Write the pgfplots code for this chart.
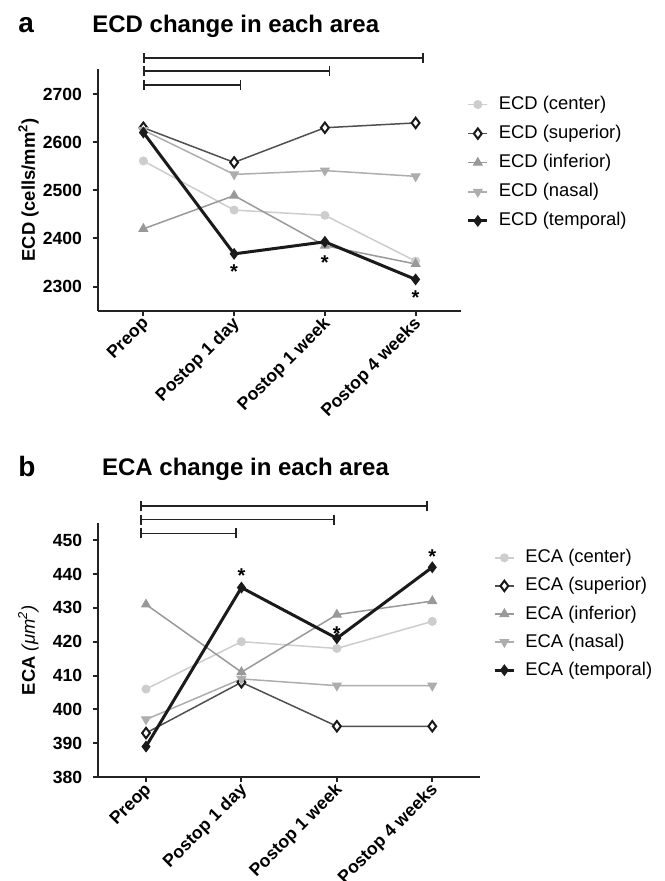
\documentclass[border=0pt]{standalone}
\usepackage{fontspec}
\setmainfont{Liberation Sans}
\usepackage{pgfplots}
\pgfplotsset{compat=1.18}
\usetikzlibrary{arrows.meta}

\definecolor{cCenter}{HTML}{CDCDCD}
\definecolor{cSup}{HTML}{505050}
\definecolor{cInf}{HTML}{999999}
\definecolor{cNas}{HTML}{ADADAD}
\definecolor{cTemp}{HTML}{1A1A1A}
\definecolor{axgray}{HTML}{222222}

\pgfplotsset{
  panel/.style={
    scale only axis,
    axis x line=bottom, axis y line=left,
    axis line style={-, line width=1pt, axgray},
    xmin=-0.5, xmax=3.5,
    xtick={0,1,2,3},
    xticklabels={Preop, Postop 1 day, Postop 1 week, Postop 4 weeks},
    tick align=outside, major tick length=2.5pt,
    every tick/.style={axgray, line width=1pt},
    /pgf/number format/assume math mode=true,
    /pgf/number format/1000 sep={},
    tick label style={font=\fontsize{8.8}{9}\selectfont\bfseries},
    xticklabel style={rotate=45, anchor=east, xshift=2.5pt, yshift=-3pt},
    yticklabel style={xshift=-2pt},
    clip=false,
    legend cell align=left,
    legend style={draw=none, fill=none, font=\fontsize{9.2}{11}\selectfont,
      anchor=north west, inner sep=0pt,
      nodes={inner sep=0pt, text height=0.75em, text depth=0.25em},
      /tikz/every odd column/.append style={column sep=5pt}},
    legend image code/.code={\draw[mark repeat=2,mark phase=2]
      plot coordinates {(0pt,0pt)(4.75pt,0pt)(9.5pt,0pt)};},
  },
  sCenter/.style={cCenter, line width=0.75pt, mark=*, mark size=2pt,
    mark options={solid, fill=cCenter, draw=cCenter, line width=0.5pt}},
  sSup/.style={cSup, line width=0.75pt, mark=diamond*, mark size=2.6pt,
    mark options={solid, fill=white, draw=black!90, line width=1pt}},
  sInf/.style={cInf, line width=0.75pt, mark=triangle*, mark size=2.5pt,
    mark options={solid, fill=cInf, draw=cInf, line width=0.5pt}},
  sNas/.style={cNas, line width=0.75pt, mark=triangle*, mark size=2.5pt,
    mark options={solid, rotate=180, fill=cNas, draw=cNas, line width=0.5pt}},
  sTemp/.style={cTemp, line width=1.5pt, mark=diamond*, mark size=2.6pt,
    mark options={solid, fill=cTemp, draw=cTemp, line width=0.5pt}},
}
\tikzset{
  sig/.style={axgray, line width=0.9pt, {Bar[width=5pt]}-{Bar[width=5pt]}},
  star/.style={font=\fontsize{10}{10}\selectfont\bfseries, anchor=base, inner sep=0pt},
}

\begin{document}
\begin{tikzpicture}
\path (0,0) rectangle (332pt,440.5pt);

% panel a
\node[anchor=base west, inner sep=0pt, font=\fontsize{14}{14}\selectfont\bfseries] at (9pt,424pt) {a};
\node[anchor=base west, inner sep=0pt, font=\fontsize{12}{12}\selectfont\bfseries] at (46pt,424pt) {ECD change in each area};
\begin{axis}[panel,
  at={(49pt,285.15pt)}, anchor=south west,
  width=181.5pt, height=120.85pt,
  ymin=2250, ymax=2752,
  ytick={2300,2400,2500,2600,2700},
  every axis y label/.style={at={(axis description cs:-0.1915,0.5)}, rotate=90, anchor=center},
  ylabel={\fontsize{9.2}{10}\selectfont\bfseries ECD (cells/mm\textsuperscript{2})},
  legend style={at={(axis description cs:1.015,0.896)}, row sep=4.55pt},
]
\addplot[sCenter] coordinates {(0,2561) (1,2459) (2,2448) (3,2353)};
\addplot[sSup]    coordinates {(0,2630) (1,2558) (2,2630) (3,2640)};
\addplot[sInf]    coordinates {(0,2420) (1,2489) (2,2385) (3,2347)};
\addplot[sNas]    coordinates {(0,2625) (1,2533) (2,2541) (3,2529)};
\addplot[sTemp]   coordinates {(0,2620) (1,2368) (2,2393) (3,2315)};
\legend{ECD (center), ECD (superior), ECD (inferior), ECD (nasal), ECD (temporal)}
\draw[sig] (axis cs:0,2775) -- (axis cs:3.09,2775);
\draw[sig] (axis cs:0,2747) -- (axis cs:2.06,2747);
\draw[sig] (axis cs:0,2719) -- (axis cs:1.08,2719);
\node[star] at (axis cs:1,2317) {*};
\node[star] at (axis cs:2,2336) {*};
\node[star] at (axis cs:3,2263) {*};
\end{axis}

% panel b
\node[anchor=base west, inner sep=0pt, font=\fontsize{14}{14}\selectfont\bfseries] at (9pt,202.2pt) {b};
\node[anchor=base west, inner sep=0pt, font=\fontsize{12}{12}\selectfont\bfseries] at (50.85pt,202.5pt) {ECA change in each area};
\begin{axis}[panel,
  at={(49.15pt,52pt)}, anchor=south west,
  width=190.85pt, height=126.85pt,
  ymin=380, ymax=455,
  ytick={380,390,400,410,420,430,440,450},
  every axis y label/.style={at={(axis description cs:-0.183,0.5)}, rotate=90, anchor=center},
  ylabel={\fontsize{9.2}{10}\selectfont{\bfseries ECA} {\itshape (μm\textsuperscript{2})}},
  legend style={at={(axis description cs:1.034,0.905)}, row sep=4.05pt},
]
\addplot[sCenter] coordinates {(0,406) (1,420) (2,418) (3,426)};
\addplot[sSup]    coordinates {(0,393) (1,408) (2,395) (3,395)};
\addplot[sInf]    coordinates {(0,431) (1,411) (2,428) (3,432)};
\addplot[sNas]    coordinates {(0,397) (1,409) (2,407) (3,407)};
\addplot[sTemp]   coordinates {(0,389) (1,436) (2,421) (3,442)};
\legend{ECA (center), ECA (superior), ECA (inferior), ECA (nasal), ECA (temporal)}
\draw[sig] (axis cs:-0.06,460) -- (axis cs:2.95,460);
\draw[sig] (axis cs:-0.06,456.1) -- (axis cs:1.98,456.1);
\draw[sig] (axis cs:-0.06,452) -- (axis cs:0.95,452);
\node[star] at (axis cs:1,437.5) {*};
\node[star] at (axis cs:2,420.25) {*};
\node[star] at (axis cs:3,443.1) {*};
\end{axis}

\pgfresetboundingbox
\useasboundingbox (0,0) rectangle (332pt,440.5pt);
\end{tikzpicture}
\end{document}
